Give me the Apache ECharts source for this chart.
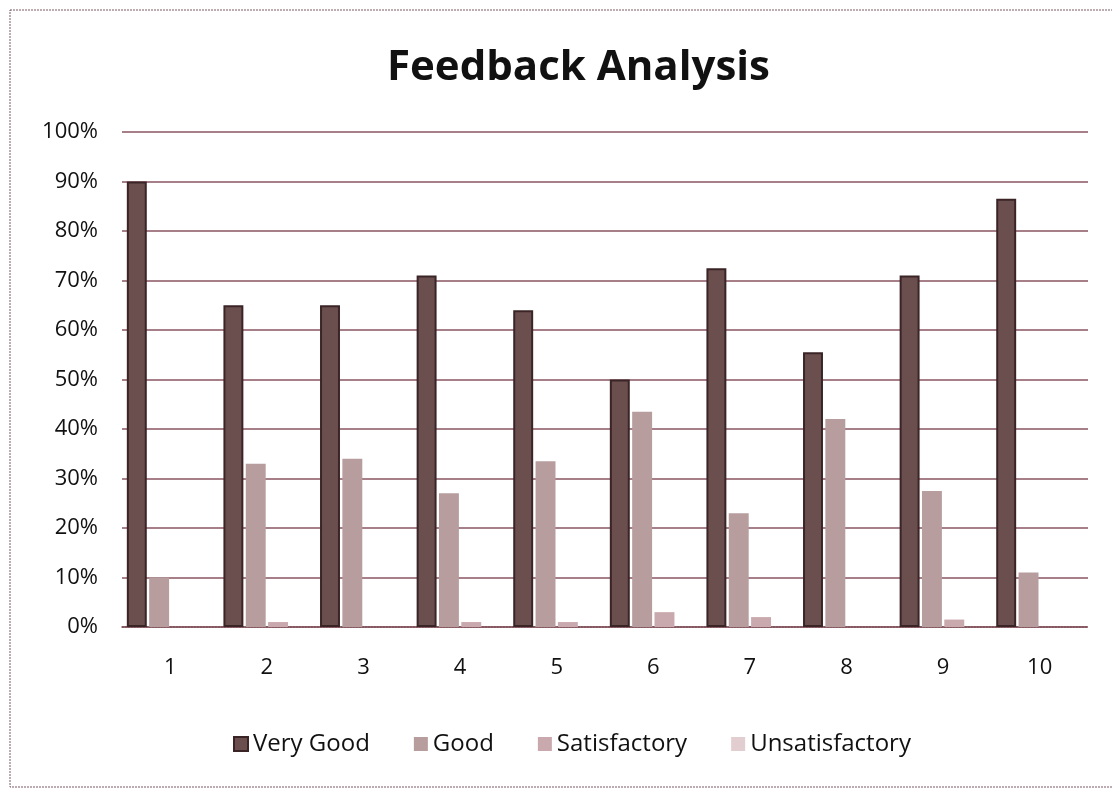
<!DOCTYPE html>
<html>
<head>
<meta charset="utf-8">
<title>Feedback Analysis</title>
<script src="https://cdn.jsdelivr.net/npm/echarts@6/dist/echarts.min.js"></script>
<style>
  html, body { margin: 0; padding: 0; background: #fff; }
  #chart { width: 1112px; height: 794px; }
</style>
</head>
<body>
<div id="chart"></div>
<script>
// data (percent)
const categories = ['1', '2', '3', '4', '5', '6', '7', '8', '9', '10']
const veryGood = [90, 65, 65, 71, 64, 50, 72.5, 55.5, 71, 86.5]
const good = [10, 33, 34, 27, 33.5, 43.5, 23, 42, 27.5, 11]
const satisfactory = [0, 1, 0, 1, 1, 3, 2, 0, 1.5, 0]
const unsatisfactory = [0, 0, 0, 0, 0, 0, 0, 0, 0, 0]
const yTicks = [0, 10, 20, 30, 40, 50, 60, 70, 80, 90, 100]

const seriesNames = ['Very Good', 'Good', 'Satisfactory', 'Unsatisfactory']
const seriesColors = ['#6b4f4f', '#b89d9e', '#c9a9ad', '#e2cdd0']
const seriesBorders = ['#3a2426', '#9a7f82', '#b08f94', '#cdb4b8']

const font = '"Open Sans", "Noto Sans", sans-serif'

const chart = echarts.init(document.getElementById('chart'))

const option = {
  backgroundColor: '#fff',
  animation: false,
  title: {
    text: 'Feedback Analysis',
    left: 382,
    top: 42,
    textStyle: {
      fontFamily: font,
      fontSize: 42,
      fontWeight: 'bold',
      color: '#111'
    }
  },
  legend: {
    bottom: 33,
    left: 228,
    itemWidth: 14,
    itemHeight: 14,
    itemGap: 44,
    icon: 'rect',
    textStyle: { fontFamily: font, fontSize: 24, color: '#111' },
    data: seriesNames
  },
  grid: {
    left: 122,
    right: 24,
    top: 132,
    bottom: 167
  },
  xAxis: {
    type: 'category',
    data: categories,
    axisTick: { show: false },
    axisLine: { lineStyle: { color: '#7a4a52', width: 1.5, type: 'dotted' } },
    axisLabel: {
      fontFamily: font,
      fontSize: 22,
      color: '#111',
      margin: 30
    }
  },
  yAxis: {
    type: 'value',
    min: yTicks[0],
    max: yTicks[yTicks.length - 1],
    interval: 10,
    axisLine: { show: false },
    axisTick: { show: false },
    axisLabel: {
      fontFamily: font,
      fontSize: 22,
      color: '#111',
      margin: 24,
      formatter: v => v + '%'
    },
    splitLine: {
      lineStyle: { color: '#8a5560', width: 1.5 }
    }
  },
  graphic: [{
    type: 'rect',
    shape: { x: 10, y: 10, width: 1130, height: 777 },
    style: { fill: 'none', stroke: '#7a5a60', lineWidth: 1, lineDash: [2, 1] },
    silent: true
  }],
  series: [veryGood, good, satisfactory, unsatisfactory].map((d, i) => ({
    name: seriesNames[i],
    type: 'bar',
    data: d,
    barGap: '12%',
    barCategoryGap: '10%',
    itemStyle: {
      color: seriesColors[i],
      borderColor: seriesBorders[i],
      borderWidth: i === 0 ? 2 : 0
    }
  }))
}

chart.setOption(option)
</script>
</body>
</html>
